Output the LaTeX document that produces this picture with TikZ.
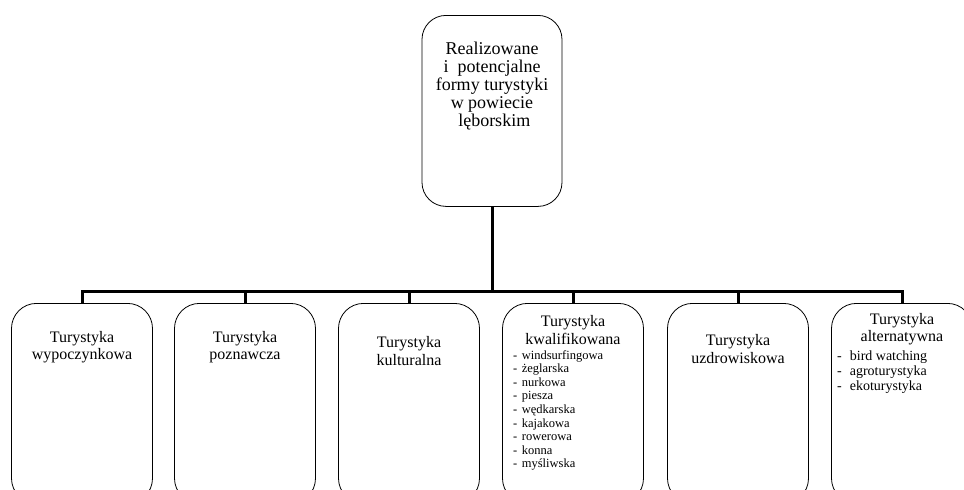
\documentclass[tikz,border=0pt]{standalone}
\usepackage{fontspec}
\setmainfont{Liberation Serif}
\begin{document}
\begin{tikzpicture}[x=1pt,y=-1pt,
  box/.style={draw=black,line width=0.8pt,rounded corners=25pt,minimum width=141pt,minimum height=200pt,anchor=north,inner sep=0pt},
  topbox/.style={draw=black,line width=0.8pt,rounded corners=24pt,minimum width=140pt,minimum height=191pt,anchor=north,inner sep=0pt},
  conn/.style={line width=3pt},
  title/.style={align=center,font=\fontsize{16}{17.5}\selectfont,inner sep=0pt},
  toptext/.style={align=center,font=\fontsize{18}{18}\selectfont,inner sep=0pt},
  lst/.style={align=left,anchor=north west,inner sep=0pt}
]
\useasboundingbox (0,0) rectangle (964,490);
\clip (0,0) rectangle (964,490);
\fill[white] (0,0) rectangle (964,490);

\node[topbox] (top) at (492,15) {};
\node[toptext] (toptxt) at (492,86) {Realizowane\\i\ \ potencjalne\\formy turystyki\\w powiecie\\\ lęborskim};

\node[box] (b1) at (82,303) {};
\node[box] (b2) at (245,303) {};
\node[box] (b3) at (409,303) {};
\node[box] (b4) at (573,303) {};
\node[box] (b5) at (738,303) {};
\node[box] (b6) at (902,303) {};

\coordinate (bus) at (492,291);
\draw[conn] (top.south) -- (bus);
\draw[conn,line cap=rect] (b1.north |- bus) -- (b6.north |- bus);
\foreach \b in {b1,b2,b3,b4,b5,b6}{\draw[conn] (\b.north |- bus) -- (\b.north);}

\node[title] (t1) at (82,347) {Turystyka\\wypoczynkowa};
\node[title] (t2) at (245,347) {Turystyka\\poznawcza};
\node[title] (t3) at (409,351) {Turystyka\\kulturalna};
\node[title] (t4) at (573,330) {Turystyka\\kwalifikowana};
\node[title] (t5) at (738,349) {Turystyka\\uzdrowiskowa};
\node[title] (t6) at (902,329) {Turystyka\\alternatywna};

\node[lst,font=\fontsize{12.5}{13.6}\selectfont] (l4) at (513,350) {%
-\hspace{4.5pt}windsurfingowa\\
-\hspace{4.5pt}żeglarska\\
-\hspace{4.5pt}nurkowa\\
-\hspace{4.5pt}piesza\\
-\hspace{4.5pt}wędkarska\\
-\hspace{4.5pt}kajakowa\\
-\hspace{4.5pt}rowerowa\\
-\hspace{4.5pt}konna\\
-\hspace{4.5pt}myśliwska};

\node[lst,font=\fontsize{14}{15}\selectfont] (l6) at (837,351) {%
-\hspace{8pt}bird watching\\
-\hspace{8pt}agroturystyka\\
-\hspace{8pt}ekoturystyka};
\end{tikzpicture}
\end{document}
